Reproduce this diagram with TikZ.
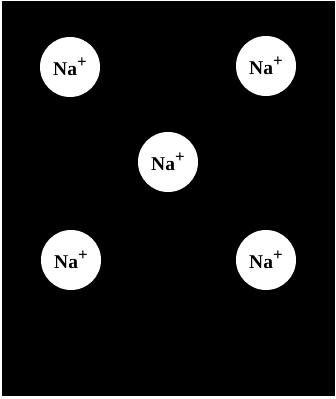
\documentclass[tikz,border=0pt]{standalone}
\usepackage{amsmath,amssymb}
\usepackage{fontspec}
\setmainfont{Liberation Serif}
\usepackage{tikz}
\usetikzlibrary{positioning}
\newcommand{\plusup}{\raisebox{0.4em}{\fontsize{17}{17}\selectfont\bfseries+}}

\begin{document}
\begin{tikzpicture}[x=1pt, y=-1pt, every node/.style={font=\fontsize{19.5}{21}\selectfont\bfseries}]
  \useasboundingbox (0,0) rectangle (335,399);
  \fill[black] (2,1) rectangle (335,396);
  \tikzset{ion/.style={circle,fill=white,inner sep=0pt,minimum size=60pt}}
  \node[ion] (na1) at (70,67) {Na\plusup};
  \node[ion] (na2) at (266,66) {Na\plusup};
  \node[ion] (na3) at (168,162) {Na\plusup};
  \node[ion] (na4) at (71,260) {Na\plusup};
  \node[ion] (na5) at (266,260) {Na\plusup};
\end{tikzpicture}
\end{document}
